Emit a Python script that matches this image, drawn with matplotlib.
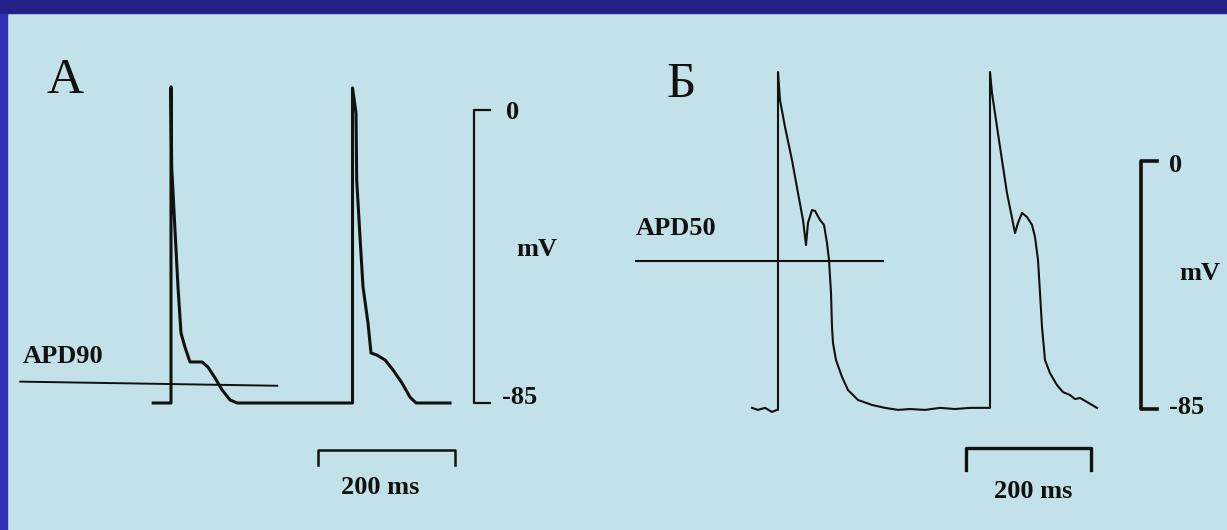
import matplotlib
matplotlib.use('Agg')
import matplotlib.pyplot as plt
from matplotlib.patches import Rectangle

# --- Panel A: two action potentials (time in ms, voltage in mV) ---
a_time = [-26, 0, 0, 1, 5.8, 10.2, 14.6, 20.4, 27.7, 45.3, 54.0, 64.2, 74.5, 86.1, 96.4,
          265.0, 265.0, 270.1, 271.1, 275.9, 280.3, 287.6, 292.0, 300.7, 312.4, 324.1,
          337.2, 348.9, 357.7, 407.3]
a_volt = [-85, -85, 6.7, -16.5, -34.8, -51.3, -64.7, -68.8, -73.1, -73.1, -74.6, -77.7,
          -81.2, -84.1, -85, -85, 6.4, -0.9, -20.3, -36.8, -51.3, -61.8, -70.5, -71.1,
          -72.5, -75.4, -79.2, -83.3, -85, -85]
a_apd_time = [-220, 155]
a_apd_volt = [-78.8, -80.0]

# --- Panel B ---
b_time = [-41.6, -32, -20.8, -9.6, -1.6, 0, 0, 3.2, 11.2, 22.4, 32, 40, 44.8, 48, 54.4,
          59.2, 67.2, 73.6, 78.4, 81.6, 84.8, 86.4, 88, 92.8, 102.4, 112, 128, 150.4,
          171.2, 192, 211.2, 235.2, 259.2, 283.2, 307.2, 339.2, 339.2, 342.4, 350.4,
          358.4, 366.4, 372.8, 379.2, 384, 390.4, 398.4, 406.4, 411.2, 416, 419.2,
          422.4, 427.2, 435.2, 446.4, 456, 467.2, 475.2, 483.2, 494.4, 502.4, 510.4]
b_volt = [-84.6, -85.3, -84.6, -86.0, -85.3, -85.3, 30.5, 20.9, 11.7, 0.3, -11.0, -20.2,
          -28.8, -21.2, -16.8, -17.1, -20.2, -21.9, -28.1, -33.9, -45.2, -56.9, -62.4,
          -68.2, -74.0, -78.5, -81.9, -83.6, -84.6, -85.3, -85.0, -85.3, -84.6, -85.0,
          -84.6, -84.6, 30.5, 23.3, 11.7, 0.3, -11.0, -17.8, -24.7, -21.2, -17.8, -19.2,
          -21.9, -26.0, -33.9, -45.2, -56.9, -68.2, -72.7, -76.8, -79.2, -80.2, -81.6,
          -81.2, -82.6, -83.6, -84.6]
b_apd_time = [-227, 168]
b_apd_volt = [-34.3, -34.3]

W, H = 1227, 530
PANEL = '#c3e1e9'
INK = '#111111'
serif = 'Liberation Serif'

fig = plt.figure(figsize=(W / 100, H / 100), dpi=100, facecolor=PANEL)
fig.patches.append(Rectangle((0, 0), 7 / W, 1, transform=fig.transFigure,
                             color='#3131b6', zorder=0))
fig.patches.append(Rectangle((0, 1 - 13 / H), 1, 13 / H, transform=fig.transFigure,
                             color='#232188', zorder=0))


def fit_axes(ax, x0_px, px_per_ms, y0_px, px_per_mv):
    # map ms / mV onto the pixel grid of the slide (y counted from top)
    ax.set_xlim(-x0_px / px_per_ms, (W - x0_px) / px_per_ms)
    ax.set_ylim((y0_px - H) / px_per_mv, y0_px / px_per_mv)
    ax.axis('off')


# ---------- Panel A ----------
axA = fig.add_axes([0, 0, 1, 1])
axA.patch.set_alpha(0)
fit_axes(axA, 171, 0.685, 110, 3.447)
axA.plot(a_time, a_volt, color=INK, lw=2.2, solid_joinstyle='round')
axA.plot(a_apd_time, a_apd_volt, color=INK, lw=1.4)
# voltage bar
axA.plot([465.7, 442.3, 442.3, 465.7], [0, 0, -85, -85], color=INK, lw=1.6)
# time bar
axA.plot([214.6, 214.6, 414.6, 414.6], [-103, -98.6, -98.6, -103], color=INK, lw=1.8)
axA.text(-154, 8.6, 'A', family=serif, fontsize=37, ha='center', va='center', color=INK)
axA.text(-217, -71.5, 'APD90', family=serif, fontsize=19, fontweight='bold',
         ha='left', va='center', color=INK)
axA.text(499, -0.6, '0', family=serif, fontsize=19, fontweight='bold',
         ha='center', va='center', color=INK)
axA.text(509, -83.5, '-85', family=serif, fontsize=19, fontweight='bold',
         ha='center', va='center', color=INK)
axA.text(534, -40.6, 'mV', family=serif, fontsize=19, fontweight='bold',
         ha='center', va='center', color=INK)
axA.text(306, -109.4, '200 ms', family=serif, fontsize=19, fontweight='bold',
         ha='center', va='center', color=INK)

# ---------- Panel B ----------
axB = fig.add_axes([0, 0, 1, 1])
axB.patch.set_alpha(0)
fit_axes(axB, 778, 0.625, 161, 2.918)
axB.plot(b_time, b_volt, color=INK, lw=1.5, solid_joinstyle='round')
axB.plot(b_apd_time, b_apd_volt, color=INK, lw=1.5)
axB.plot([606.4, 580.8, 580.8, 606.4], [0, 0, -85, -85], color=INK, lw=2.6)
axB.plot([300.8, 300.8, 500.8, 500.8], [-105.9, -98.4, -98.4, -105.9], color=INK, lw=2.4)
axB.text(-155, 26, 'Б', family=serif, fontsize=37, ha='center', va='center', color=INK)
axB.text(-227, -23, 'APD50', family=serif, fontsize=19, fontweight='bold',
         ha='left', va='center', color=INK)
axB.text(636, -1.4, '0', family=serif, fontsize=19, fontweight='bold',
         ha='center', va='center', color=INK)
axB.text(653, -84.6, '-85', family=serif, fontsize=19, fontweight='bold',
         ha='center', va='center', color=INK)
axB.text(675, -38.7, 'mV', family=serif, fontsize=19, fontweight='bold',
         ha='center', va='center', color=INK)
axB.text(408, -113.1, '200 ms', family=serif, fontsize=19, fontweight='bold',
         ha='center', va='center', color=INK)

fig.savefig('out.png', dpi=100, facecolor=PANEL)
plt.close(fig)
